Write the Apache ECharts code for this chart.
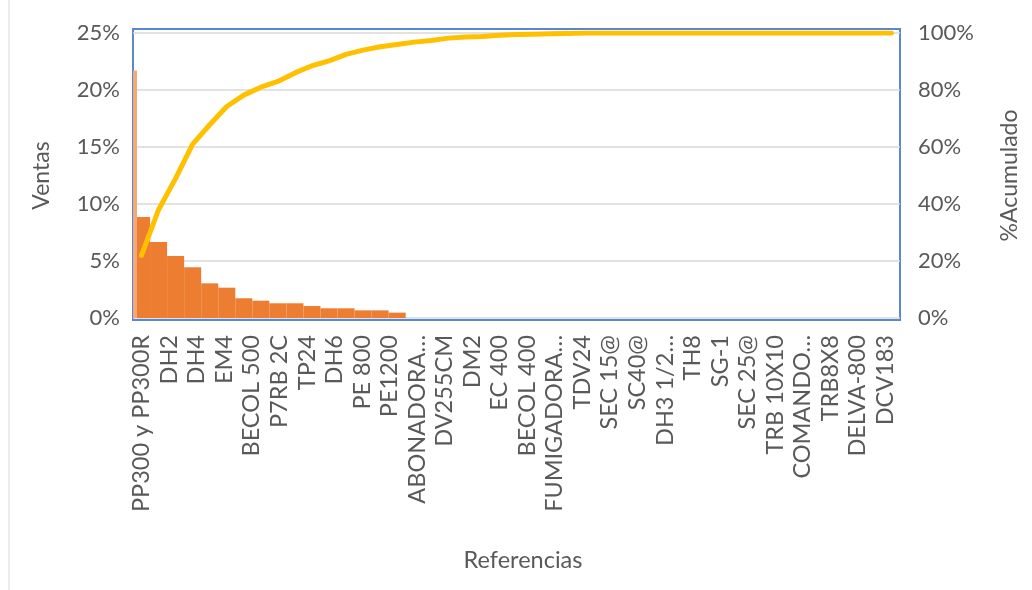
<!DOCTYPE html>
<html>
<head>
<meta charset="utf-8">
<script src="https://cdn.jsdelivr.net/npm/echarts@6/dist/echarts.min.js"></script>
<style>
  html, body { margin: 0; padding: 0; background: #fff; }
  #chart { width: 1032px; height: 590px; }
</style>
</head>
<body>
<div id="chart"></div>
<script>
// etiquetas visibles del eje (Excel muestra una de cada dos)
const categorias = ['PP300 y PP300R', 'DH2', 'DH4', 'EM4', 'BECOL 500', 'P7RB 2C', 'TP24', 'DH6',
    'PE 800', 'PE1200', 'ABONADORA…', 'DV255CM', 'DM2', 'EC 400', 'BECOL 400', 'FUMIGADORA…',
    'TDV24', 'SEC 15@', 'SC40@', 'DH3 1/2…', 'TH8', 'SG-1', 'SEC 25@', 'TRB 10X10', 'COMANDO…',
    'TRB8X8', 'DELVA-800', 'DCV183'];

// ventas (%), el primer valor solo asoma en el borde izquierdo
const ventas = [21.7, 8.86, 6.67, 5.44, 4.45, 3.04, 2.66, 1.73, 1.52, 1.29, 1.29, 1.05, 0.85, 0.85,
    0.67, 0.67, 0.47, 0, 0, 0, 0, 0, 0, 0, 0, 0, 0, 0, 0, 0, 0, 0, 0, 0, 0, 0, 0, 0, 0, 0, 0, 0, 0,
    0, 0, 0];

// % acumulado
const acumulado = [22, 38, 49, 61, 67.8, 74.2, 78.2, 81, 83, 86, 88.5, 90.2, 92.5, 94, 95.2, 96,
    96.8, 97.4, 98.2, 98.6, 98.8, 99.2, 99.5, 99.6, 99.7, 99.8, 100, 100, 100, 100, 100, 100, 100,
    100, 100, 100, 100, 100, 100, 100, 100, 100, 100, 100, 100];

const ticksVentas = [0, 25, 5];
const ticksAcum = [0, 100, 20];

const posiciones = acumulado.map((v, i) => String(i + 1));
const txt = '#595959';
const fuente = 'Lato';

let chart = echarts.init(document.getElementById('chart'));

let option = {
    animation: false,
    textStyle: { fontFamily: fuente },
    title: {
        text: 'Referencias',
        left: 518,
        top: 543,
        textAlign: 'center',
        textStyle: { color: txt, fontSize: 23.5, fontWeight: 'normal', fontFamily: fuente }
    },
    graphic: [{
        type: 'line',
        shape: { x1: 9, y1: 0, x2: 9, y2: 590 },
        style: { stroke: '#d9d9d9', lineWidth: 1 }
    }],
    grid: [
        { left: 133, right: 132, top: 33, bottom: 272 },
        { left: 128, right: 133, top: 33, bottom: 272 },
        { left: 133, right: 132, top: 29, bottom: 270, show: true, borderColor: '#5b87d2', borderWidth: 2 }
    ],
    xAxis: [
        { type: 'category', gridIndex: 0, data: posiciones, show: false },
        {
            type: 'category', gridIndex: 1, data: categorias,
            axisLine: { show: false }, axisTick: { show: false },
            axisLabel: { interval: 0, rotate: 90, margin: 17, color: txt, fontSize: 23.5, fontFamily: fuente }
        },
        { type: 'value', gridIndex: 2, show: false }
    ],
    yAxis: [
        {
            type: 'value', gridIndex: 0, min: ticksVentas[0], max: ticksVentas[1], interval: ticksVentas[2],
            name: 'Ventas', nameLocation: 'middle', nameRotate: 90, nameGap: 80,
            nameTextStyle: { color: txt, fontSize: 23, fontFamily: fuente },
            axisLine: { show: false }, axisTick: { show: false },
            axisLabel: { formatter: '{value}%', margin: 13, color: txt, fontSize: 22, fontFamily: fuente },
            splitLine: { lineStyle: { color: '#d9d9d9', width: 1.5 } }
        },
        {
            type: 'value', gridIndex: 0, position: 'right', min: ticksAcum[0], max: ticksAcum[1], interval: ticksAcum[2],
            name: '%Acumulado', nameLocation: 'middle', nameRotate: 90, nameGap: 98,
            nameTextStyle: { color: txt, fontSize: 23, fontFamily: fuente },
            axisLine: { show: false }, axisTick: { show: false },
            axisLabel: { formatter: '{value}%', margin: 18, color: txt, fontSize: 22, fontFamily: fuente },
            splitLine: { show: false }
        },
        { type: 'value', gridIndex: 1, show: false },
        { type: 'value', gridIndex: 2, show: false }
    ],
    series: [
        {
            name: 'Ventas (inicio)',
            type: 'bar',
            xAxisIndex: 0, yAxisIndex: 0,
            data: [ventas[0]],
            barWidth: 4,
            barGap: '-100%',
            itemStyle: { color: '#f4a873' },
            z: 4
        },
        {
            name: 'Ventas',
            type: 'bar',
            xAxisIndex: 0, yAxisIndex: 0,
            data: ventas.slice(1),
            barWidth: '100%',
            barGap: '-100%',
            itemStyle: { color: '#ed7d31' },
            z: 3
        },
        {
            name: '%Acumulado',
            type: 'line',
            xAxisIndex: 0, yAxisIndex: 1,
            data: acumulado,
            showSymbol: false,
            lineStyle: { color: '#ffc000', width: 5, cap: 'round', join: 'round' },
            z: 5
        }
    ]
};

chart.setOption(option);
</script>
</body>
</html>
